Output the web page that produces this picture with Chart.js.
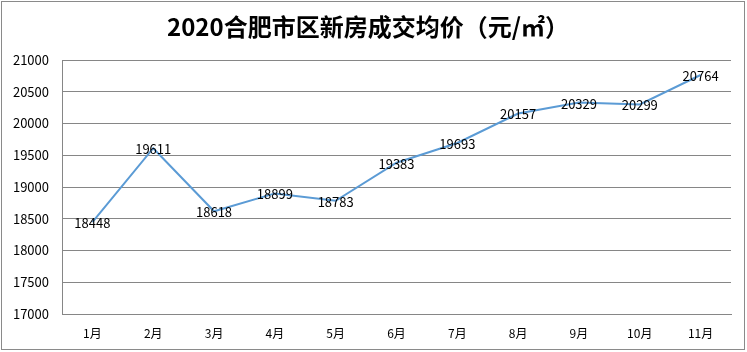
<!DOCTYPE html>
<html><head><meta charset="utf-8">
<script src="https://cdn.jsdelivr.net/npm/chart.js@4/dist/chart.umd.min.js"></script>
<style>html,body{margin:0;padding:0;background:#fff}#wrap{width:747px;height:352px}</style>
</head><body><div id="wrap"><canvas id="c" width="747" height="352"></canvas></div>
<script>
const title = "2020合肥市区新房成交均价（元/㎡）";
const categories = ["1月","2月","3月","4月","5月","6月","7月","8月","9月","10月","11月"];
const prices = [18448,19611,18618,18899,18783,19383,19693,20157,20329,20299,20764];
const yTicks = [17000,17500,18000,18500,19000,19500,20000,20500,21000];

const FONT = '"Noto Sans CJK SC", "Noto Sans", sans-serif';

const decor = {
  id: 'decor',
  beforeDraw(chart) {
    const ctx = chart.ctx;
    ctx.save();
    ctx.fillStyle = '#fff';
    ctx.fillRect(0,0,chart.width,chart.height);
    ctx.strokeStyle = '#8a8a8a';
    ctx.lineWidth = 1;
    ctx.strokeRect(1.5,1.5,743,348);
    ctx.fillStyle = '#000';
    ctx.font = 'bold 24px ' + FONT;
    ctx.textAlign = 'center';
    ctx.textBaseline = 'middle';
    ctx.fillText(title, 368, 27);
    ctx.restore();
  },
  afterDatasetsDraw(chart) {
    const ctx = chart.ctx;
    const meta = chart.getDatasetMeta(0);
    ctx.save();
    ctx.fillStyle = '#000';
    ctx.font = '13px ' + FONT;
    ctx.textAlign = 'center';
    ctx.textBaseline = 'middle';
    meta.data.forEach((pt, i) => {
      ctx.fillText(String(prices[i]), pt.x, pt.y + 1);
    });
    ctx.restore();
  }
};

new Chart(document.getElementById('c'), {
  type: 'line',
  data: {
    labels: categories,
    datasets: [{
      data: prices,
      borderColor: '#5B9BD5',
      borderWidth: 2,
      pointRadius: 0,
      tension: 0,
      fill: false
    }]
  },
  options: {
    responsive: false,
    animation: false,
    devicePixelRatio: 1,
    layout: { padding: { top: 60, right: 16, bottom: 0, left: 0 } },
    plugins: { legend: { display: false }, tooltip: { enabled: false }, title: { display: false } },
    scales: {
      x: {
        offset: true,
        grid: { display: false, drawTicks: false },
        border: { display: true, color: '#868686' },
        ticks: { color: '#000', font: { family: FONT, size: 12 }, padding: 12, maxRotation: 0, autoSkip: false },
        afterFit(s) { s.height = 38; }
      },
      y: {
        min: 17000, max: 21000,
        afterBuildTicks(s) { s.ticks = yTicks.map(v => ({ value: v })); },
        grid: { color: '#868686', drawTicks: false, lineWidth: 1 },
        border: { display: true, color: '#868686' },
        ticks: { color: '#000', font: { family: FONT, size: 13 }, padding: 13, callback: v => String(v) },
        afterFit(s) { s.width = 62; }
      }
    }
  },
  plugins: [decor]
});
</script>
</body></html>
